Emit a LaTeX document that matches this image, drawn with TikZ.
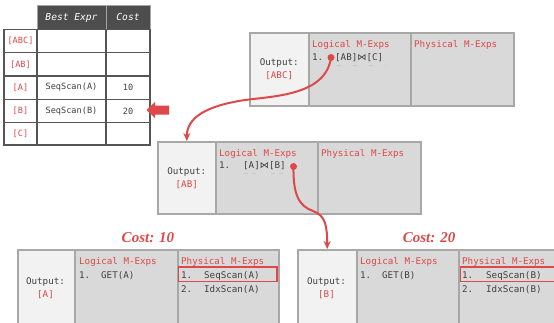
\documentclass[tikz,border=0pt]{standalone}
\usepackage{fontspec}
\setmainfont{Liberation Serif}
\setmonofont{DejaVu Sans Mono}
\newfontfamily\symf{DejaVu Sans}
\usetikzlibrary{arrows.meta}
\definecolor{myred}{RGB}{222,72,72}
\definecolor{txt}{RGB}{64,64,64}
\definecolor{bord}{RGB}{168,168,168}
\definecolor{cellA}{RGB}{242,242,242}
\definecolor{cellB}{RGB}{217,217,217}
\definecolor{hdr}{RGB}{77,77,77}
\definecolor{tline}{RGB}{85,85,85}
\begin{document}
\begin{tikzpicture}[x=1pt,y=-1pt,
  mono/.style={font=\fontsize{9.2}{13}\ttfamily, text=txt, inner sep=0pt},
  tmono/.style={font=\fontsize{8.6}{11}\ttfamily, text=txt, inner sep=0pt},
  redt/.style={text=myred},
  outcell/.style={draw=bord, line width=1.5pt, fill=cellA, anchor=north west, inner sep=0pt},
  mcell/.style={draw=bord, line width=1.5pt, fill=cellB, anchor=north west, inner sep=0pt},
  hilite/.style={draw=myred, line width=1.3pt},
  conn/.style={draw=myred, line width=2pt, -{Stealth[length=8pt,width=7pt]}},
  dot/.style={circle, fill=myred, inner sep=0pt, minimum size=7pt},
  costt/.style={font=\fontsize{15}{18}\selectfont\bfseries\itshape, text=myred, inner sep=0pt},
  uline/.style={draw=gray!45, line width=1pt}
]
\useasboundingbox (0,0) rectangle (554,322);
\clip (0,0) rectangle (554,322);

% ---------- table ----------
\fill[hdr] (37,5) rectangle (150,29.3);
\draw[gray!70, line width=0.8pt] (37,5) rectangle (150,29.3) (106,5) -- (106,29.3);
\node[tmono, text=white, font=\fontsize{9.6}{11}\ttfamily\itshape] (hbe) at (71.5,17.5) {Best Expr};
\node[tmono, text=white, font=\fontsize{9.6}{11}\ttfamily\itshape] (hco) at (128,17.5) {Cost};
\draw[tline, line width=1.1pt] (4,29.3) rectangle (150,145);
\foreach \yy in {52.7,76,99.3,122.7} \draw[tline, line width=1.1pt] (4,\yy) -- (150,\yy);
\draw[tline, line width=1.1pt] (37,29.3) -- (37,145) (106,29.3) -- (106,145);
\node[tmono, redt] (rabc) at (20.5,41) {[ABC]};
\node[tmono, redt] (rab) at (20.5,64.3) {[AB]};
\node[tmono, redt] (ra) at (20.5,87.6) {[A]};
\node[tmono, redt] (rb) at (20.5,111) {[B]};
\node[tmono, redt] (rc) at (20.5,134) {[C]};
\node[tmono] (bea) at (71.5,87.6) {SeqScan(A)};
\node[tmono] (beb) at (71.5,111) {SeqScan(B)};
\node[tmono] (ca) at (128,87.6) {10};
\node[tmono] (cb) at (128,111) {20};
\fill[myred] (146.5,110) -- (155,102) -- (155,105.5) -- (169,105.5) -- (169,114.5) -- (155,114.5) -- (155,118) -- cycle;

% ---------- top group [ABC] ----------
\node[mcell, minimum width=102pt, minimum height=73pt] (tlog) at (308,32) {};
\node[mcell, minimum width=103pt, minimum height=73pt] (tphy) at (410,32) {};
\node[outcell, minimum width=59pt, minimum height=73pt] (tout) at (249,32) {};
\node[mono, align=center] (touttxt) at (tout.center) {Output:\\\textcolor{myred}{[ABC]}};
\node[mono, redt, anchor=base west] (tlogh) at (312,47) {Logical M-Exps};
\node[mono, redt, anchor=base west] (tphyh) at (414,47) {Physical M-Exps};
\node[mono, anchor=base west] (tl1n) at (312,60) {1.};
\node[mono, anchor=base west] (tl1) at (335,60) {[AB]{\symf ⋈}[C]};
\draw[uline, dash pattern=on 4pt off 12pt] (337,65) -- (386,65);

% ---------- middle group [AB] ----------
\node[mcell, minimum width=102pt, minimum height=72pt] (mlog) at (215,141) {};
\node[mcell, minimum width=103pt, minimum height=72pt] (mphy) at (317,141) {};
\node[outcell, minimum width=58pt, minimum height=72pt] (mout) at (157,141) {};
\node[mono, align=center] (mouttxt) at (mout.center) {Output:\\\textcolor{myred}{[AB]}};
\node[mono, redt, anchor=base west] (mlogh) at (219,156) {Logical M-Exps};
\node[mono, redt, anchor=base west] (mphyh) at (321,156) {Physical M-Exps};
\node[mono, anchor=base west] (ml1n) at (219,168) {1.};
\node[mono, anchor=base west] (ml1) at (243,168) {[A]{\symf ⋈}[B]};
\draw[uline, dash pattern=on 4pt off 4pt] (244,173) -- (256,173) (271,173) -- (283,173);

% ---------- bottom left [A] ----------
\node[mcell, minimum width=103pt, minimum height=90pt] (alog) at (74,249) {};
\node[mcell, minimum width=101pt, minimum height=90pt] (aphy) at (177,249) {};
\node[outcell, minimum width=57pt, minimum height=90pt] (aout) at (17,249) {};
\node[mono, align=center] (aouttxt) at (45.5,288) {Output:\\\textcolor{myred}{[A]}};
\node[mono, redt, anchor=base west] (alogh) at (79,264.5) {Logical M-Exps};
\node[mono, redt, anchor=base west] (aphyh) at (181,264.5) {Physical M-Exps};
\node[mono, anchor=base west] (al1n) at (79,278) {1.};
\node[mono, anchor=base west] (al1) at (101,278) {GET(A)};
\node[mono, anchor=base west] (ap1n) at (181,278) {1.};
\node[mono, anchor=base west] (ap1) at (204,278) {SeqScan(A)};
\node[mono, anchor=base west] (ap2n) at (181,292) {2.};
\node[mono, anchor=base west] (ap2) at (204,292) {IdxScan(A)};
\draw[hilite] (178.5,267) rectangle (277,281.5);
\node[costt] (costa) at (148,238) {Cost: 10};

% ---------- bottom right [B] ----------
\node[mcell, minimum width=102pt, minimum height=90pt] (blog) at (356,249) {};
\node[mcell, minimum width=110pt, minimum height=90pt] (bphy) at (458,249) {};
\node[outcell, minimum width=59pt, minimum height=90pt] (bout) at (297,249) {};
\node[mono, align=center] (bouttxt) at (326.5,288) {Output:\\\textcolor{myred}{[B]}};
\node[mono, redt, anchor=base west] (blogh) at (360,264.5) {Logical M-Exps};
\node[mono, redt, anchor=base west] (bphyh) at (462,264.5) {Physical M-Exps};
\node[mono, anchor=base west] (bl1n) at (360,278) {1.};
\node[mono, anchor=base west] (bl1) at (382,278) {GET(B)};
\node[mono, anchor=base west] (bp1n) at (462,278) {1.};
\node[mono, anchor=base west] (bp1) at (486,278) {SeqScan(B)};
\node[mono, anchor=base west] (bp2n) at (462,292) {2.};
\node[mono, anchor=base west] (bp2) at (486,292) {IdxScan(B)};
\draw[hilite] (460.5,267) rectangle (570,281.5);
\node[costt] (costb) at (429,238) {Cost: 20};

% ---------- connectors ----------
\node[dot] (d1) at (331,57.5) {};
\node[dot] (d2) at (293.5,166.5) {};
\draw[conn] (d1.center) .. controls (326,95) and (275,96) .. (245,100) .. controls (205,106) and (187,118) .. (mout.north);
\draw[conn] (d2.center) .. controls (293,195) and (299,206) .. (313,211) .. controls (326,216) and (327,226) .. (bout.north);
\end{tikzpicture}
\end{document}
